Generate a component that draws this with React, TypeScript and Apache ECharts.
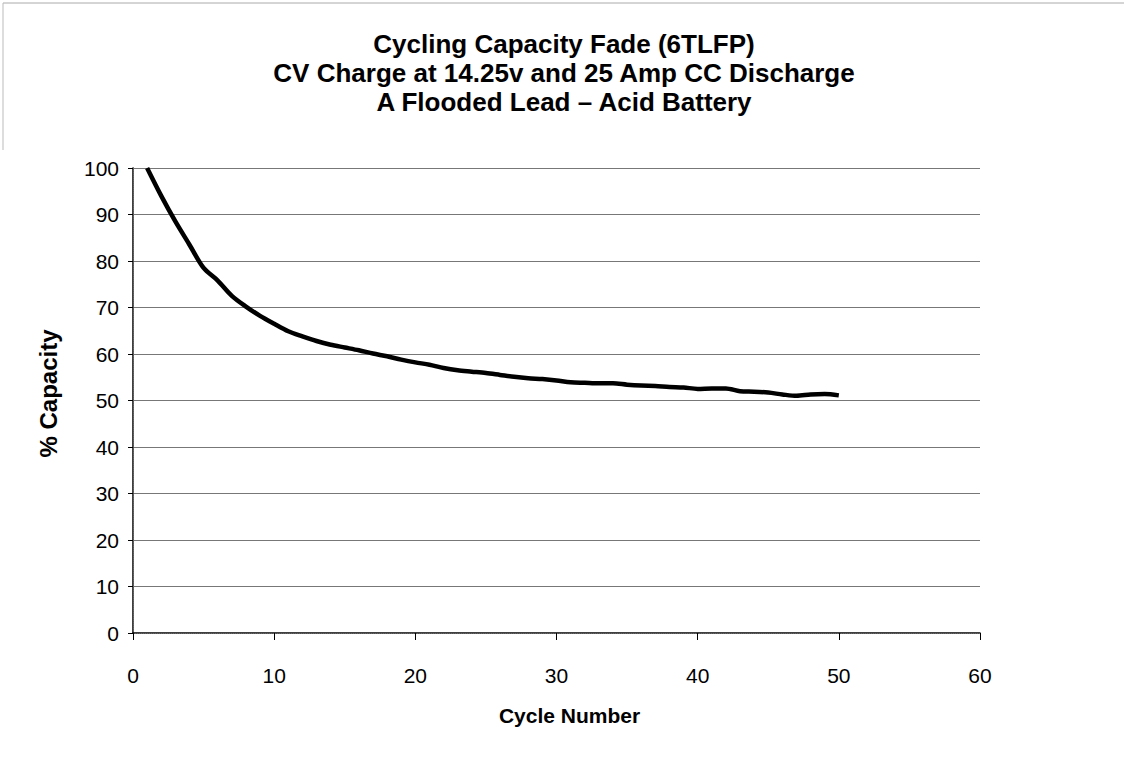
import React, { useEffect, useRef } from "react";
import * as echarts from "echarts";

const titleLines = [
  "Cycling Capacity Fade (6TLFP)",
  "CV Charge at 14.25v and 25 Amp CC Discharge",
  "A Flooded Lead – Acid Battery",
];
const xName = "Cycle Number";
const yName = "% Capacity";
const cycles = [
  1, 2, 3, 4, 5, 6, 7, 8, 9, 10, 11, 12, 13, 14, 15, 16, 17, 18, 19, 20, 21, 22, 23, 24, 25,
  26, 27, 28, 29, 30, 31, 32, 33, 34, 35, 36, 37, 38, 39, 40, 41, 42, 43, 44, 45, 46, 47, 48, 49, 50,
];
const capacity = [
  100, 94, 88.5, 83.5, 78.5, 75.8, 72.5, 70.2, 68.2, 66.5, 64.9, 63.8, 62.8, 62, 61.4, 60.8,
  60.1, 59.5, 58.8, 58.2, 57.7, 57, 56.5, 56.2, 55.9, 55.5, 55.1, 54.8, 54.6, 54.3, 53.9, 53.8,
  53.7, 53.7, 53.4, 53.2, 53.1, 52.9, 52.8, 52.5, 52.6, 52.6, 52.0, 51.9, 51.7, 51.3, 51.0,
  51.3, 51.4, 51.1,
];

export default function App() {
  const ref = useRef<HTMLDivElement>(null);
  useEffect(() => {
    document.body.style.margin = "0";
    const chart = echarts.init(ref.current!, null, { renderer: "svg" });
    const font = "Liberation Sans, Arial, sans-serif";
    chart.setOption({
      animation: false,
      backgroundColor: "#fff",
      textStyle: { fontFamily: font },
      title: {
        text: titleLines.join("\n"),
        left: 559,
        textAlign: "center",
        top: 24,
        textStyle: { fontSize: 26, fontWeight: "bold", color: "#000", lineHeight: 29, fontFamily: font },
      },
      grid: { left: 133, top: 168, right: 144, bottom: 124, containLabel: false },
      xAxis: [
        {
          type: "value",
          min: 0,
          max: 60,
          interval: 10,
          name: xName,
          nameLocation: "middle",
          nameGap: 72,
          nameTextStyle: { fontSize: 21, fontWeight: "bold", color: "#000", fontFamily: font, padding: [0, 0, 0, 26] },
          axisLine: { show: true, onZero: false, lineStyle: { color: "#000", width: 1.5 } },
          axisTick: { show: true, length: 7, inside: false, lineStyle: { color: "#000" } },
          axisLabel: { fontSize: 21, color: "#000", margin: 32, fontFamily: font },
          splitLine: { show: false },
        },
        {
          type: "value",
          position: "top",
          min: 0,
          max: 60,
          interval: 10,
          axisLine: { show: true, lineStyle: { color: "#666", type: "dotted", width: 1 } },
          axisTick: { show: false },
          axisLabel: { show: false },
          splitLine: { show: false },
        },
      ],
      yAxis: [
        {
          type: "value",
          min: 0,
          max: 100,
          interval: 10,
          name: yName,
          nameLocation: "middle",
          nameGap: 73,
          nameTextStyle: { fontSize: 24, fontWeight: "bold", color: "#000", fontFamily: font, padding: [0, 0, 0, 14] },
          axisLine: { show: true, onZero: false, lineStyle: { color: "#000", width: 1.5 } },
          axisTick: { show: true, length: 5, lineStyle: { color: "#000" } },
          axisLabel: { fontSize: 21, color: "#000", margin: 14, fontFamily: font },
          splitLine: { show: true, lineStyle: { color: "#777", width: 1 } },
        },
        {
          type: "value",
          position: "right",
          min: 0,
          max: 100,
          interval: 10,
          axisLine: { show: true, lineStyle: { color: "#666", type: "dotted", width: 1 } },
          axisTick: { show: false },
          axisLabel: { show: false },
          splitLine: { show: false },
        },
      ],
      graphic: [
        { type: "line", shape: { x1: 3, y1: 3, x2: 1124, y2: 3 }, style: { stroke: "#aaa", lineWidth: 1 } },
        { type: "line", shape: { x1: 3, y1: 3, x2: 3, y2: 150 }, style: { stroke: "#bbb", lineWidth: 1 } },
      ],
      series: [
        {
          type: "line",
          data: cycles.map((c, i) => [c, capacity[i]]),
          showSymbol: false,
          smooth: 0.3,
          lineStyle: { color: "#000", width: 4.5 },
          xAxisIndex: 0,
          yAxisIndex: 0,
        },
      ],
    });
    return () => chart.dispose();
  }, []);
  return <div ref={ref} style={{ width: 1124, height: 757 }} />;
}
